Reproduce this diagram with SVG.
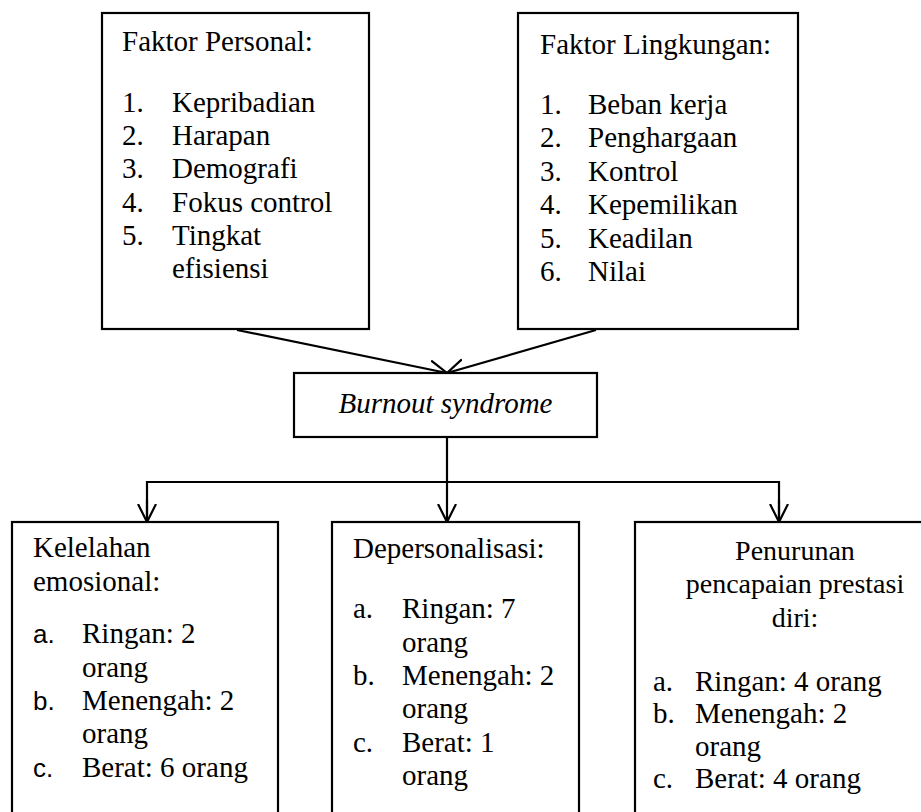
<svg xmlns="http://www.w3.org/2000/svg" width="921" height="812" viewBox="0 0 921 812">
<defs>
<style>
.box{fill:#fff;stroke:#000;stroke-width:2.2}
.t{font-family:"Liberation Serif","Times New Roman",serif;font-size:29px;fill:#000}
.h{font-size:28px}
.s{font-family:"Liberation Sans",Arial,sans-serif;font-size:26px;fill:#000}
.i{font-style:italic}
.c{stroke:#000;stroke-width:2.2;fill:none}
</style>
<marker id="ah" markerWidth="20" markerHeight="20" refX="18" refY="9" orient="auto" markerUnits="userSpaceOnUse" viewBox="0 0 20 18">
<path d="M0,0 L18,9 L0,18" fill="none" stroke="#000" stroke-width="2.2"/>
</marker>
</defs>
<rect width="921" height="812" fill="#fff"/>
<g id="connectors">
<line class="c" x1="237" y1="330" x2="447" y2="373" marker-end="url(#ah)"/>
<line class="c" x1="596" y1="330" x2="447" y2="373" marker-end="url(#ah)"/>
<line class="c" x1="447" y1="437" x2="447" y2="482"/>
<polyline class="c" points="147,522 147,482 779,482 779,522"/>
<line class="c" x1="147" y1="500" x2="147" y2="522" marker-end="url(#ah)"/>
<line class="c" x1="447" y1="482" x2="447" y2="522" marker-end="url(#ah)"/>
<line class="c" x1="779" y1="500" x2="779" y2="522" marker-end="url(#ah)"/>
</g>
<g id="faktor-personal">
<rect class="box" x="102" y="13" width="267" height="316"/>
<text class="t" x="122" y="51">Faktor Personal:</text>
<text class="t" x="122" y="112">1.</text><text class="t" x="172" y="112">Kepribadian</text>
<text class="t" x="122" y="145">2.</text><text class="t" x="172" y="145">Harapan</text>
<text class="t" x="122" y="178">3.</text><text class="t" x="172" y="178">Demografi</text>
<text class="t" x="122" y="212">4.</text><text class="t" x="172" y="212">Fokus control</text>
<text class="t" x="122" y="245">5.</text><text class="t" x="172" y="245">Tingkat</text>
<text class="t" x="172" y="278">efisiensi</text>
</g>
<g id="faktor-lingkungan">
<rect class="box" x="518" y="13" width="280" height="316"/>
<text class="t" x="540" y="54">Faktor Lingkungan:</text>
<text class="t" x="540" y="114">1.</text><text class="t" x="588" y="114">Beban kerja</text>
<text class="t" x="540" y="147">2.</text><text class="t" x="588" y="147">Penghargaan</text>
<text class="t" x="540" y="181">3.</text><text class="t" x="588" y="181">Kontrol</text>
<text class="t" x="540" y="214">4.</text><text class="t" x="588" y="214">Kepemilikan</text>
<text class="t" x="540" y="248">5.</text><text class="t" x="588" y="248">Keadilan</text>
<text class="t" x="540" y="281">6.</text><text class="t" x="588" y="281">Nilai</text>
</g>
<g id="burnout">
<rect class="box" x="294" y="373" width="303" height="64"/>
<text class="t i" x="445.5" y="413" text-anchor="middle">Burnout syndrome</text>
</g>
<g id="kelelahan">
<rect class="box" x="12" y="522" width="266" height="310"/>
<text class="t" x="33" y="557">Kelelahan</text>
<text class="t" x="33" y="591">emosional:</text>
<text class="s" x="33" y="643">a.</text><text class="t" x="82" y="643">Ringan: 2</text>
<text class="t" x="82" y="677">orang</text>
<text class="s" x="33" y="710">b.</text><text class="t" x="82" y="710">Menengah: 2</text>
<text class="t" x="82" y="743">orang</text>
<text class="s" x="33" y="777">c.</text><text class="t" x="82" y="777">Berat: 6 orang</text>
</g>
<g id="depersonalisasi">
<rect class="box" x="332" y="522" width="247" height="310"/>
<text class="t" x="353" y="558">Depersonalisasi:</text>
<text class="t" x="353" y="618">a.</text><text class="t" x="402" y="618">Ringan: 7</text>
<text class="t" x="402" y="652">orang</text>
<text class="t" x="353" y="685">b.</text><text class="t" x="402" y="685">Menengah: 2</text>
<text class="t" x="402" y="718">orang</text>
<text class="t" x="353" y="752">c.</text><text class="t" x="402" y="752">Berat: 1</text>
<text class="t" x="402" y="785">orang</text>
</g>
<g id="penurunan">
<rect class="box" x="635" y="522" width="310" height="310"/>
<text class="t h" x="795" y="560" text-anchor="middle">Penurunan</text>
<text class="t h" x="795" y="593" text-anchor="middle">pencapaian prestasi</text>
<text class="t h" x="795" y="627" text-anchor="middle">diri:</text>
<text class="t" x="653" y="691">a.</text><text class="t" x="695" y="691">Ringan: 4 orang</text>
<text class="t" x="653" y="723">b.</text><text class="t" x="695" y="723">Menengah: 2</text>
<text class="t" x="695" y="756">orang</text>
<text class="t" x="653" y="788">c.</text><text class="t" x="695" y="788">Berat: 4 orang</text>
</g>
</svg>
